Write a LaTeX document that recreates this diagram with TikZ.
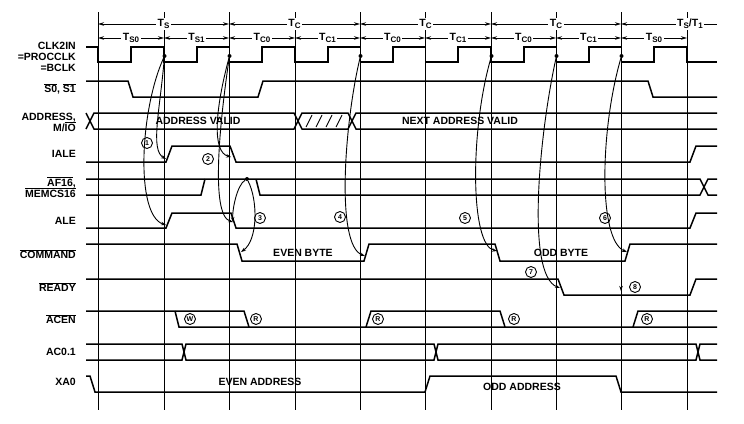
\documentclass[tikz,border=0pt]{standalone}
\usepackage{fontspec}
\setmainfont{Liberation Sans}
\usetikzlibrary{arrows.meta}
\newcommand\tsb[1]{T\raisebox{-2pt}{\fontsize{8}{8}\selectfont #1}}
\newcommand\ov[1]{$\overline{\mbox{#1}}$}
\begin{document}
\begin{tikzpicture}[x=1pt,y=-1pt,
  sig/.style={line width=1.5pt,line join=miter},
  grid/.style={line width=0.9pt},
  lbl/.style={font=\bfseries\fontsize{10.5}{11}\selectfont,anchor=east,align=right,inner sep=0pt},
  txt/.style={font=\bfseries\fontsize{10.5}{11}\selectfont,inner sep=1pt},
  hdr/.style={line width=0.9pt,{Stealth[length=6pt,width=3.5pt]}-{Stealth[length=6pt,width=3.5pt]}},
  hl/.style={font=\bfseries\fontsize{10.5}{11}\selectfont,fill=white,inner sep=1.5pt},
  cn/.style={circle,draw,line width=0.9pt,inner sep=0pt,minimum size=11pt,font=\bfseries\fontsize{7}{7}\selectfont},
  crv/.style={line width=0.9pt,-{Stealth[length=5pt,width=3.5pt]}},
  dotc/.style={circle,fill,inner sep=0pt,minimum size=4pt}]
\useasboundingbox (0,0) rectangle (744,423);
% grid lines
\foreach \x in {98,164,229,295,360,425,491,556,621,687} {\draw[grid] (\x,12) -- (\x,410);}
% header
\draw[hdr] (98,24) -- node[hl]{\tsb{S}} (229,24);
\draw[hdr] (229,24) -- node[hl]{\tsb{C}} (360,24);
\draw[hdr] (360,24) -- node[hl]{\tsb{C}} (491,24);
\draw[hdr] (491,24) -- node[hl]{\tsb{C}} (621,24);
\draw[line width=0.9pt,{Stealth[length=6pt,width=3.5pt]}-] (621,24) -- (717,24);
\node[hl] at (690,24) {\tsb{S}/\tsb{1}};
\draw[hdr] (98,38) -- node[hl]{\tsb{S0}} (164,38);
\draw[hdr] (164,38) -- node[hl]{\tsb{S1}} (229,38);
\draw[hdr] (229,38) -- node[hl]{\tsb{C0}} (295,38);
\draw[hdr] (295,38) -- node[hl]{\tsb{C1}} (360,38);
\draw[hdr] (360,38) -- node[hl]{\tsb{C0}} (425,38);
\draw[hdr] (425,38) -- node[hl]{\tsb{C1}} (491,38);
\draw[hdr] (491,38) -- node[hl]{\tsb{C0}} (556,38);
\draw[hdr] (556,38) -- node[hl]{\tsb{C1}} (621,38);
\draw[hdr] (621,38) -- node[hl]{\tsb{S0}} (687,38);
% labels
\node[lbl] at (76,57) {CLK2IN\\=PROCCLK\\=BCLK};
\node[lbl] at (76,89) {\ov{S0}, \ov{S1}};
\node[lbl] at (76,122) {ADDRESS,\\M/\ov{IO}};
\node[lbl] at (76,154) {IALE};
\node[lbl] at (76,187) {\ov{AF16},\\\ov{MEMCS16}};
\node[lbl] at (76,221) {ALE};
\node[lbl] at (76,254) {\ov{COMMAND}};
\node[lbl] at (76,287) {\ov{READY}};
\node[lbl] at (76,319) {\ov{ACEN}};
\node[lbl] at (76,352) {AC0.1};
\node[lbl] at (76,382) {XA0};
% CLK
\draw[sig] (86,47) -- (98,47) -- (98,62)
  \foreach \b in {98,164,229,295,360,425,491,556,621} { -- (\b+33,62) -- (\b+33,47) -- (\b+65.5,47) -- (\b+65.5,62)} -- (717,62);
% S0 S1
\draw[sig] (86,81) -- (128,81) -- (133,97) -- (258,97) -- (263,81) -- (648,81) -- (653,97) -- (717,97);
% ADDRESS bus
\draw[sig] (86,113) -- (90,121) -- (94,113) -- (294,113) -- (298,121) -- (294,129) -- (94,129) -- (90,121) -- (86,129);
\draw[sig] (298,121) -- (302,113) -- (348,113) -- (352,121) -- (356,113) -- (717,113);
\draw[sig] (298,121) -- (302,129) -- (348,129) -- (352,121) -- (356,129) -- (717,129);
\foreach \h in {306,316,326,336} {\draw[line width=0.9pt] (\h,127) -- (\h+6,115);}
\node[txt] at (198,121) {ADDRESS VALID};
\node[txt] at (460,121) {NEXT ADDRESS VALID};
% IALE
\draw[sig] (86,162) -- (166,162) -- (172,146) -- (230,146) -- (236,162) -- (690,162) -- (696,146) -- (717,146);
% AF16
\draw[sig] (86,179) -- (700,179) -- (704,187) -- (700,195) -- (260,195) -- (256,179);
\draw[sig] (86,195) -- (201,195) -- (205,179);
\draw[sig] (704,187) -- (708,179) -- (717,179);
\draw[sig] (704,187) -- (708,195) -- (717,195);
% ALE
\draw[sig] (86,228) -- (166,228) -- (172,213) -- (231,213) -- (236,228) -- (690,228) -- (696,213) -- (717,213);
% COMMAND
\draw[sig] (86,244) -- (237,244) -- (242,261) -- (364,261) -- (369,244) -- (495,244) -- (500,261) -- (625,261) -- (630,244) -- (717,244);
\node[txt] at (303,253) {EVEN BYTE};
\node[txt] at (561,253) {ODD BYTE};
% READY
\draw[sig] (86,279) -- (558,279) -- (564,295) -- (690,295) -- (696,279) -- (717,279);
% ACEN
\draw[sig] (86,311) -- (244,311) -- (249,327);
\draw[sig] (175,311) -- (179,327) -- (717,327);
\draw[sig] (366,327) -- (371,311) -- (500,311) -- (505,327);
\draw[sig] (633,327) -- (638,311) -- (717,311);
% AC0.1
\draw[sig] (86,344) -- (182,344) -- (184,352) -- (182,360) -- (86,360);
\draw[sig] (184,352) -- (186,344) -- (434,344) -- (436,352) -- (434,360) -- (186,360) -- (184,352);
\draw[sig] (436,352) -- (438,344) -- (696,344) -- (698,352) -- (696,360) -- (438,360) -- (436,352);
\draw[sig] (698,352) -- (700,344) -- (717,344);
\draw[sig] (698,352) -- (700,360) -- (717,360);
% XA0
\draw[sig] (86,376) -- (90,376) -- (95,392) -- (425,392) -- (430,376) -- (616,376) -- (621,392) -- (717,392);
\node[txt] at (260,382) {EVEN ADDRESS};
\node[txt] at (522,387) {ODD ADDRESS};
% dots / targets
\node[dotc] (d1) at (164.5,56) {};
\node[dotc] (d2) at (229.5,56) {};
\node[dotc] (d4) at (360.5,56) {};
\node[dotc] (d5) at (491.5,56) {};
\node[dotc] (d7) at (556.5,56) {};
\node[dotc] (d6) at (621.5,56) {};
\node[dotc] (d3) at (247,179) {};
\coordinate (iaR) at (166,159);
\coordinate (alR) at (166,225);
\coordinate (iaF) at (231,157);
\coordinate (alF) at (233,222);
\coordinate (coF) at (241,252);
\coordinate (coR) at (365,256);
\coordinate (coF2) at (497,251);
\coordinate (coR2) at (627,252);
\coordinate (rdF) at (560,288);
\coordinate (r8a) at (621,280);
\coordinate (r8b) at (621,291);
\draw[crv] (d1) .. controls (160,110) and (150,150) .. (iaR);
\draw[crv] (d1) .. controls (140,110) and (135,215) .. (alR);
\draw[crv] (d2) .. controls (215,110) and (212,152) .. (iaF);
\draw[crv] (d2) .. controls (220,120) and (210,215) .. (alF);
\draw[crv] (d3) .. controls (237,185) and (232,210) .. (alF);
\draw[crv] (d3) .. controls (258,200) and (258,240) .. (coF);
\draw[crv] (d4) .. controls (345,120) and (335,245) .. (coR);
\draw[crv] (d5) .. controls (470,130) and (470,245) .. (coF2);
\draw[crv] (d7) .. controls (540,130) and (525,275) .. (rdF);
\draw[crv] (d6) .. controls (600,130) and (598,240) .. (coR2);
\draw[crv] (r8a) -- (r8b);
% circled labels
\node[cn] at (147,143) {1};
\node[cn] at (208,159) {2};
\node[cn] at (260,218) {3};
\node[cn] at (340,217) {4};
\node[cn] at (465,218) {5};
\node[cn] at (605,218) {6};
\node[cn] at (531,272) {7};
\node[cn] at (635,287) {8};
\node[cn] at (190,319) {W};
\node[cn] at (256,319) {R};
\node[cn] at (378,319) {R};
\node[cn] at (514,319) {R};
\node[cn] at (647,319) {R};
\end{tikzpicture}
\end{document}
